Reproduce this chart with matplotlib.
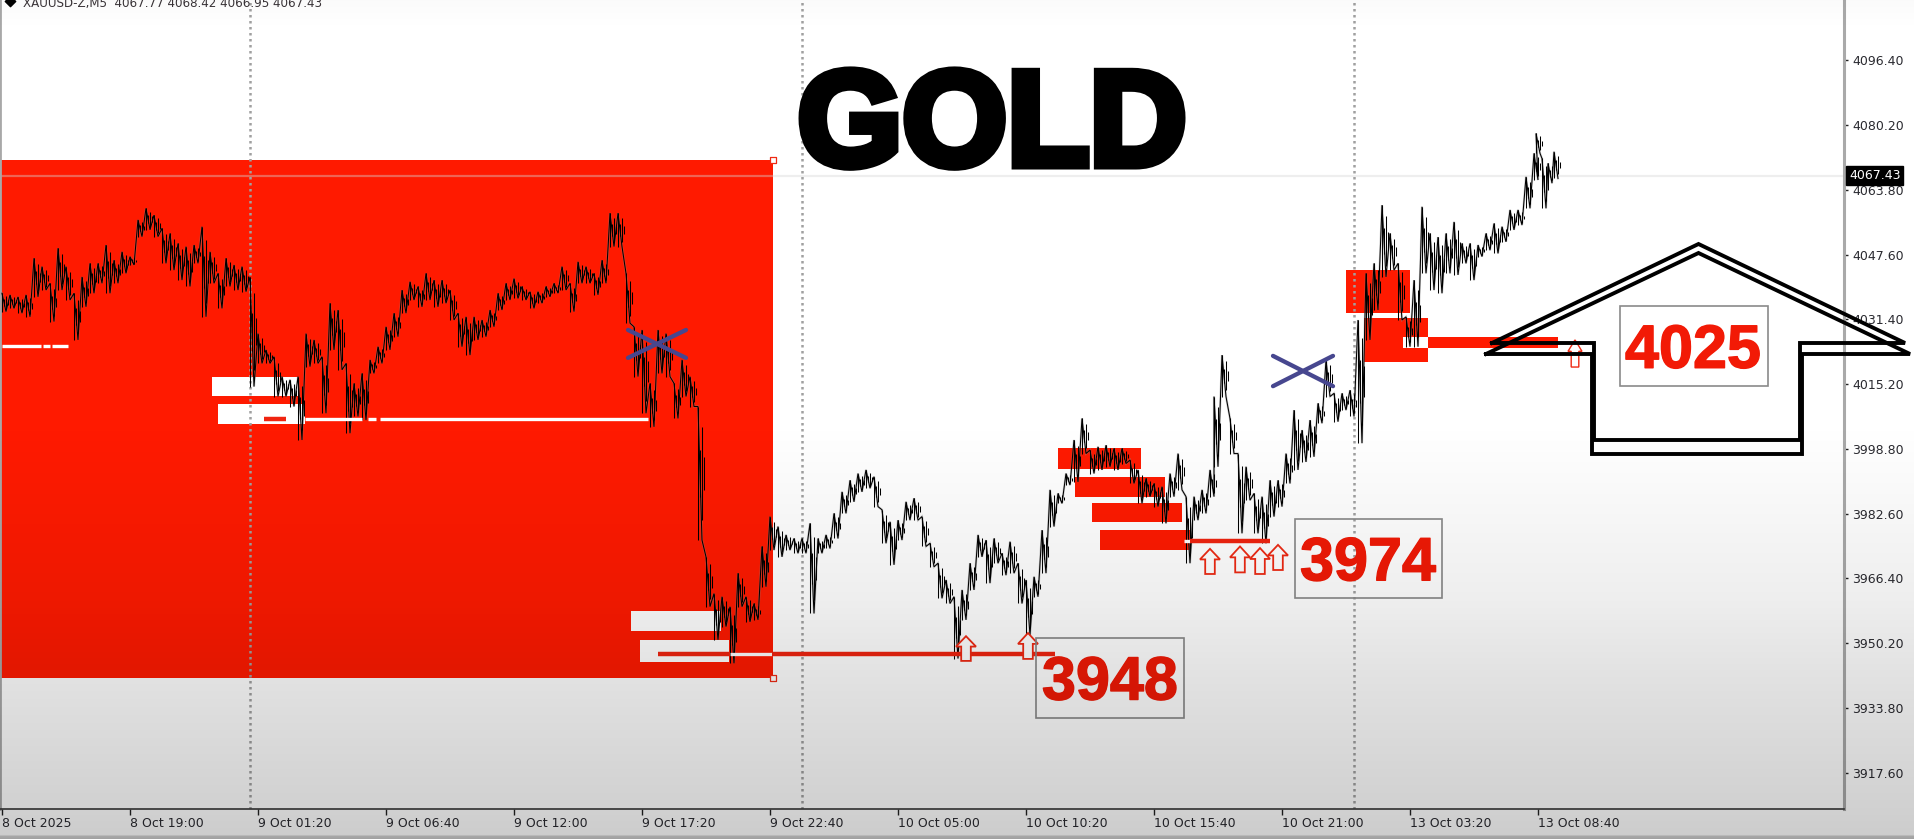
#!/usr/bin/env python3
"""XAUUSD M5 screenshot with hand drawn zones and price call-outs."""

import matplotlib
matplotlib.use("Agg")
import matplotlib.pyplot as plt
import matplotlib.patheffects as pe
from matplotlib.patches import Polygon, Rectangle
from matplotlib.transforms import Affine2D
import numpy as np

W, H = 1915, 839

highs_a = [4037.9, 4037.5, 4037.0, 4037.5, 4046.7, 4044.6, 4040.4, 4049.2, 4044.6, 4037.9,
           4042.0, 4045.4, 4045.4, 4050.0, 4046.2, 4048.3, 4047.1, 4056.3, 4059.2, 4057.5,
           4054.2, 4052.9, 4050.4, 4049.6, 4050.0, 4054.6, 4048.3, 4042.9, 4046.7, 4045.0,
           4044.6, 4042.0, 4027.8, 4023.7, 4022.0, 4017.0, 4016.2, 4017.0, 4027.8, 4026.2,
           4022.0, 4035.4, 4033.7, 4020.3, 4015.3, 4017.8, 4021.2, 4024.5, 4029.5, 4032.9,
           4038.7, 4040.8, 4039.6, 4042.9, 4041.2, 4041.2, 4038.7, 4032.9, 4032.0, 4032.0,
           4031.2, 4033.7, 4037.9, 4040.4, 4041.6, 4039.6, 4038.3, 4038.3, 4039.6, 4040.4,
           4044.6, 4040.4, 4045.8, 4044.6, 4042.9, 4046.2, 4058.0, 4058.0, 4042.9, 4029.5,
           4028.7, 4015.3, 4028.7, 4027.8, 4015.3, 4021.2, 4017.0, 4009.5]
lows_a = [4033.3, 4034.1, 4032.9, 4032.0, 4037.0, 4038.7, 4030.8, 4038.7, 4036.2, 4026.2,
          4034.5, 4037.9, 4040.4, 4037.9, 4040.4, 4042.9, 4045.0, 4052.1, 4053.8, 4052.1,
          4045.4, 4043.7, 4041.2, 4039.6, 4045.4, 4032.0, 4040.4, 4034.1, 4039.6, 4038.7,
          4038.3, 4014.5, 4020.3, 4020.3, 4012.0, 4012.0, 4009.5, 4001.1, 4019.5, 4020.3,
          4007.8, 4023.7, 4018.7, 4002.8, 4007.0, 4006.1, 4017.8, 4020.3, 4023.7, 4027.0,
          4032.9, 4036.2, 4034.5, 4036.2, 4034.5, 4035.4, 4031.2, 4024.5, 4022.4, 4026.2,
          4027.0, 4029.5, 4033.7, 4036.2, 4036.6, 4036.2, 4034.1, 4035.4, 4037.0, 4037.9,
          4038.7, 4033.3, 4040.4, 4040.4, 4037.5, 4040.4, 4049.6, 4049.6, 4030.4, 4017.0,
          4007.8, 4004.4, 4017.8, 4017.0, 4006.5, 4012.0, 4009.5, 3976.0]
highs_b = [3971.8, 3962.6, 3961.8, 3959.3, 3967.7, 3961.8, 3960.1, 3974.4, 3981.9, 3979.4,
           3977.3, 3976.4, 3976.4, 3980.2, 3976.4, 3977.3, 3982.7, 3988.1, 3991.0, 3992.7,
           3993.6, 3991.9, 3983.6, 3980.6, 3981.0, 3985.6, 3986.5, 3981.9, 3975.2, 3970.2,
           3966.0, 3961.8, 3963.5, 3970.2, 3977.3, 3976.0, 3976.4, 3972.7, 3975.6, 3970.2,
           3966.0, 3966.8, 3978.5, 3988.6, 3987.7, 3992.7, 4001.1, 4006.5, 3998.6, 3999.4,
           3999.8, 3999.0, 3999.0, 3996.1, 3993.6, 3991.5, 3990.2, 3989.4, 3992.7, 3997.7,
           3986.9, 3986.9, 3988.6, 3993.6]
lows_b = [3959.3, 3951.0, 3954.3, 3945.1, 3959.3, 3955.5, 3956.0, 3964.3, 3973.5, 3971.8,
          3973.5, 3972.7, 3972.7, 3957.6, 3972.7, 3973.9, 3976.4, 3982.7, 3985.6, 3988.1,
          3989.0, 3984.4, 3975.2, 3969.8, 3976.0, 3981.0, 3981.0, 3974.4, 3969.3, 3961.4,
          3960.1, 3946.3, 3956.0, 3963.5, 3971.8, 3965.2, 3970.2, 3967.2, 3967.7, 3960.1,
          3952.2, 3961.8, 3967.7, 3979.4, 3985.2, 3989.8, 3990.6, 3997.7, 3992.7, 3993.6,
          3994.4, 3993.6, 3995.2, 3990.2, 3985.2, 3986.9, 3984.4, 3980.2, 3986.9, 3988.6,
          3970.2, 3981.0, 3982.7, 3986.9]
highs_c = [4012.0, 4022.4, 4006.5, 3997.7, 3994.4, 3987.7, 3986.9, 3991.0, 3991.0, 3997.7,
           4008.6, 4003.6, 4006.1, 4010.3, 4021.2, 4012.8, 4012.8, 4013.6, 4031.2, 4042.9,
           4045.4, 4060.0, 4052.9, 4045.4, 4032.0, 4041.2, 4059.6, 4052.9, 4052.0, 4052.9,
           4055.8, 4050.4, 4050.4, 4050.0, 4052.9, 4055.4, 4054.6, 4058.8, 4058.8, 4067.1,
           4073.0, 4078.0, 4071.7, 4070.5, 4073.4]
lows_c = [3994.4, 4012.0, 3997.7, 3977.7, 3986.0, 3977.7, 3975.2, 3981.9, 3984.4, 3990.2,
          3993.6, 3995.6, 3996.9, 4005.3, 4012.0, 4005.7, 4008.6, 4007.0, 4000.3, 4026.2,
          4033.7, 4042.0, 4043.7, 4031.2, 4024.5, 4024.5, 4042.9, 4038.7, 4037.9, 4042.9,
          4042.5, 4045.4, 4041.2, 4047.1, 4048.7, 4047.9, 4050.8, 4053.8, 4055.0, 4059.2,
          4066.3, 4073.0, 4059.2, 4065.5, 4066.7]
bars_sampled = list(range(0, 608, 4)) + list(range(606, 770, 4)) + [767, 770, 773, 776]

x_ticks = [0, 64, 128, 192, 256, 320, 384, 448, 512, 576, 640, 704, 768]
x_labels = ["8 Oct 2025", "8 Oct 19:00", "9 Oct 01:20", "9 Oct 06:40", "9 Oct 12:00",
            "9 Oct 17:20", "9 Oct 22:40", "10 Oct 05:00", "10 Oct 10:20", "10 Oct 15:40",
            "10 Oct 21:00", "13 Oct 03:20", "13 Oct 08:40"]
y_ticks = [4096.40, 4080.20, 4063.80, 4047.60, 4031.40, 4015.20, 3998.80, 3982.60,
           3966.40, 3950.20, 3933.80, 3917.60]
last_price = 4067.43
separators = [124, 400, 676]

# zones as (first bar, last bar, upper price, lower price)
big_zone = (-1, 385.5, 4071.3, 3941.4)
white_zones = [(105, 148, 4016.9, 4012.1), (108, 151.5, 4010.1, 4005.1),
               (314.5, 359.5, 3958.2, 3953.2), (319, 363.75, 3950.9, 3945.4)]
red_zones = [(528, 569.5, 3999.1, 3993.8), (536.5, 581.5, 3991.8, 3986.8),
             (545, 590, 3985.3, 3980.5), (549, 594, 3978.5, 3973.5),
             (672, 704, 4043.7, 4033.0), (681, 713, 4031.7, 4020.7),
             (713, 778, 4026.9, 4024.2)]
white_notch = (700.5, 713, 4026.9, 4024.2)

# levels as (first bar, last bar, price)
white_levels = [(0, 19.5, 4024.7), (20.5, 24, 4024.7), (25, 33, 4024.7),
                (151.5, 180, 4006.4), (183, 187, 4006.4), (189, 323, 4006.4),
                (364, 385, 3947.4), (591, 594, 3975.8)]
red_levels = [(131, 142, 4006.4), (328, 364, 3947.4), (385, 526.5, 3947.4), (594, 634, 3975.8)]

# up arrows as (bar, tail price, tip price)
arrows = [(482, 3945.7, 3951.9), (513, 3946.2, 3952.7), (604, 3967.5, 3973.8),
          (619, 3967.9, 3974.4), (629, 3967.5, 3974.0), (638, 3968.5, 3974.8)]
small_arrow = (786.5, 4019.4, 4026.2)

crosses = [(313, 342, 4028.7, 4021.7), (635.5, 665.5, 4022.2, 4014.6)]

# call-outs as (label, box first bar, box last bar, box top, box bottom, text bar, text price)
callouts = [("3948", 517, 591, 3951.4, 3931.4, 554, 3939.9),
            ("3974", 646.5, 720, 3981.3, 3961.5, 683, 3969.8),
            ("4025", 809, 883, 4034.7, 4014.6, 845.5, 4023.1)]

RED = "#ff1a00"
BLUE = "#47478f"
PRICE_FONT = "Liberation Sans"

# how much of a sampled range each bar in the stretch covers
BAR_SPREAD = [1.0, 0.35, 0.7, 0.25]


def add_zone(ax, zone, color, z):
    x0, x1, top, bottom = zone
    ax.add_patch(Rectangle((x0, bottom), x1 - x0, top - bottom, facecolor=color,
                           edgecolor="none", zorder=z))


def add_arrow(ax, arrow, half_w, shaft_w, lw):
    x, tail, tip = arrow
    neck = tip - (tip - tail) * 0.42
    pts = [(x - shaft_w, tail), (x + shaft_w, tail), (x + shaft_w, neck), (x + half_w, neck),
           (x, tip), (x - half_w, neck), (x - shaft_w, neck)]
    ax.add_patch(Polygon(pts, closed=True, facecolor="white", edgecolor="#ef2a14",
                         linewidth=lw, zorder=6, clip_on=False))


def main():
    fig = plt.figure(figsize=(W / 100, H / 100), dpi=100, facecolor="white")
    px = Affine2D().scale(1 / W, -1 / H).translate(0, 1) + fig.transFigure

    ax = fig.add_axes([0, 30 / H, 1844 / W, 809 / H], zorder=1)
    ax.set_xlim(-1, 921)
    ax.set_ylim(3908.56, 4111.45)
    ax.patch.set_alpha(0)

    ax.spines["top"].set_visible(False)
    ax.spines["left"].set_color("#a8a8a8")
    ax.spines["left"].set_linewidth(2)
    ax.spines["right"].set_color("#a9a9a9")
    ax.spines["right"].set_linewidth(2.2)
    ax.spines["bottom"].set_color("#3a3a3a")
    ax.spines["bottom"].set_linewidth(1.2)

    ax.yaxis.tick_right()
    ax.set_yticks(y_ticks)
    ax.set_yticklabels([f"{v:.2f}" for v in y_ticks])
    ax.set_xticks(x_ticks)
    ax.set_xticklabels(x_labels, ha="left")
    ax.tick_params(axis="y", length=3, width=1, color="#222222", labelsize=9,
                   labelcolor="#2a2a30", pad=3)
    ax.tick_params(axis="x", length=4, width=1, color="#222222", labelsize=9,
                   labelcolor="#2a2a30", pad=1.5)

    # zones first, the price runs over them
    add_zone(ax, big_zone, RED, 1)
    for z in white_zones:
        add_zone(ax, z, "white", 2)
    for z in red_zones:
        add_zone(ax, z, RED, 2)
    add_zone(ax, white_notch, "white", 2.5)

    for b in separators:
        ax.axvline(b, color="#a0a0a0", linewidth=1.8, linestyle=(0, (1, 1.4)), zorder=2.2)
    ax.axhline(last_price, color="#d6d6d6", linewidth=1.6, alpha=0.4, zorder=2.3)

    highs = highs_a + highs_b + highs_c
    lows = lows_a + lows_b + lows_c
    path_x, path_y = [], []
    stroke_x, stroke_hi, stroke_lo = [], [], []
    for b, hi, lo in zip(bars_sampled, highs, lows, strict=True):
        path_x += [b, b + 2]
        path_y += [hi, lo]
        mid = (hi + lo) / 2
        for k, spread in enumerate(BAR_SPREAD):
            half = (hi - lo) / 2 * spread
            stroke_x.append(b + k)
            stroke_hi.append(mid + half)
            stroke_lo.append(mid - half)
    ax.plot(path_x, path_y, color="#8a8a8a", linewidth=1.6, alpha=0.4, zorder=3,
            solid_joinstyle="miter")
    ax.plot(path_x, path_y, color="black", linewidth=0.75, zorder=3.1, solid_joinstyle="miter")
    ax.vlines(stroke_x, stroke_lo, stroke_hi, color="black", linewidth=0.75, zorder=3.2)

    for x0, x1, p in white_levels:
        ax.plot([x0, x1], [p, p], color="white", linewidth=2.4, zorder=4,
                solid_capstyle="butt")
    for x0, x1, p in red_levels:
        ax.plot([x0, x1], [p, p], color="#f02410", linewidth=3.2, zorder=4,
                solid_capstyle="butt")

    for a in arrows:
        add_arrow(ax, a, 5, 2.4, 1.3)
    add_arrow(ax, small_arrow, 3.5, 1.9, 1.0)

    for x0, x1, top, bottom in crosses:
        ax.plot([x0, x1], [top, bottom], color=BLUE, linewidth=3.1, zorder=5,
                solid_capstyle="round")
        ax.plot([x0, x1], [bottom, top], color=BLUE, linewidth=3.1, zorder=5,
                solid_capstyle="round")

    ax.scatter([big_zone[1], big_zone[1]], [big_zone[2], big_zone[3]], marker="s", s=14,
               facecolor="white", edgecolor="#ef2a14", linewidth=0.9, zorder=6, clip_on=False)

    for label, x0, x1, top, bottom, tx, ty in callouts:
        ax.add_patch(Rectangle((x0, bottom), x1 - x0, top - bottom, facecolor="none",
                               edgecolor="#8a8a8a", linewidth=1.2, zorder=6))
        ax.text(tx, ty, label, ha="center", va="center", fontsize=44, fontweight="bold",
                family=PRICE_FONT, color="#f21a06", zorder=7,
                path_effects=[pe.withStroke(linewidth=1.0, foreground="#f21a06")])

    # double outlined house arrow
    upper_x = [1492, 1698.5, 1905, 1800, 1800, 1594, 1594, 1492]
    upper_y = [343, 244, 343, 343, 440, 440, 343, 343]
    lower_x = [1486, 1698.5, 1910, 1802, 1802, 1592, 1592, 1486]
    lower_y = [354, 253, 354, 354, 454, 454, 354, 354]
    for xs, ys in ((upper_x, upper_y), (lower_x, lower_y)):
        ax.plot(xs, ys, color="black", linewidth=2.8, transform=px, clip_on=False, zorder=8,
                solid_joinstyle="miter")

    ax.text(992, 130, "GOLD", transform=px, ha="center", va="center", fontsize=97,
            fontweight="bold", family=PRICE_FONT, color="black", zorder=9,
            path_effects=[pe.withStroke(linewidth=6.5, foreground="black", joinstyle="miter")])

    ax.text(23, 4, "XAUUSD-Z,M5  4067.77 4068.42 4066.95 4067.43", transform=px, ha="left",
            va="center", fontsize=8.6, color="#3a3438", zorder=9)
    ax.scatter([10], [1], marker="D", s=28, color="black", transform=px, clip_on=False, zorder=9)
    ax.text(1851, -3, "4112.60", transform=px, ha="left", va="center", fontsize=9,
            color="#2a2a30")

    ax.text(1849, 175.5, f"{last_price:.2f}", transform=px, ha="left", va="center", fontsize=9,
            color="white", zorder=10,
            bbox=dict(boxstyle="square,pad=0.22", facecolor="black", edgecolor="black"))

    # the grey fade of the window sits over everything
    shade = fig.add_axes([0, 0, 1, 1], zorder=5)
    shade.axis("off")
    shade.patch.set_alpha(0)
    rows = np.arange(H)
    alpha = np.interp(rows, [0, 30, 420, 500, 600, 680, 809, 834, 836, 839],
                      [0.02, 0.0, 0.0, 0.03, 0.07, 0.12, 0.185, 0.2, 0.35, 0.38])
    rgba = np.zeros((H, 1, 4))
    rgba[:, 0, 3] = alpha
    shade.imshow(rgba, aspect="auto", extent=(0, 1, 0, 1), interpolation="nearest")

    fig.savefig("out.png", dpi=100, facecolor="white")


if __name__ == "__main__":
    main()
